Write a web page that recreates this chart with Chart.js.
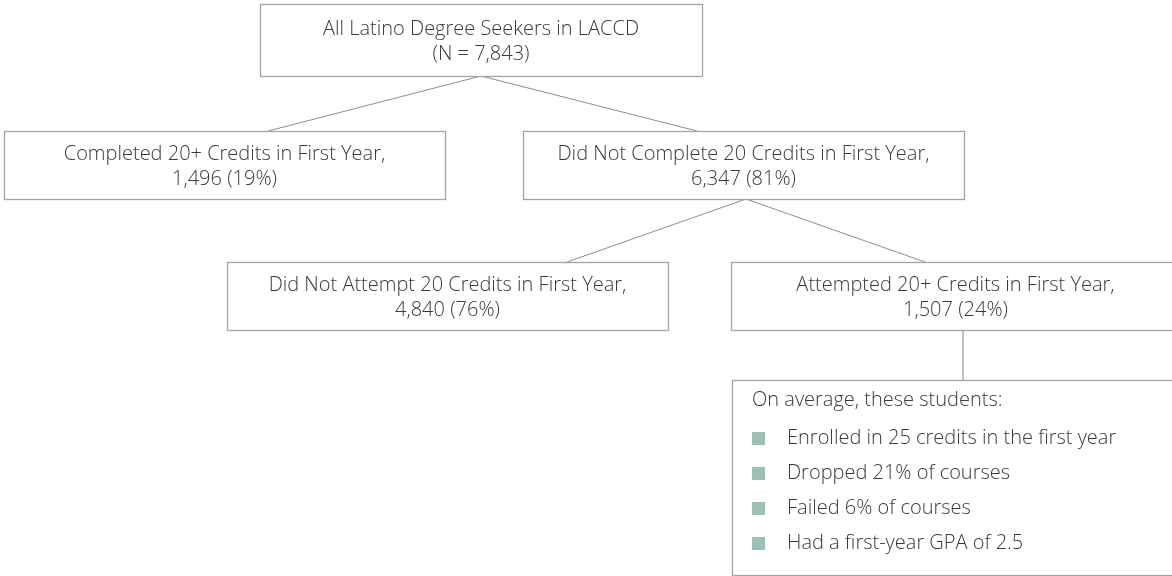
<!DOCTYPE html>
<html>
<head>
<meta charset="utf-8">
<script src="https://cdn.jsdelivr.net/npm/chart.js@4/dist/chart.umd.min.js"></script>
<style>
  html, body { margin: 0; padding: 0; background: #ffffff; }
  #wrap { width: 1172px; height: 576px; }
  canvas { display: block; }
</style>
</head>
<body>
<div id="wrap"><canvas id="c" width="1172" height="576"></canvas></div>
<script>
// ---- data ----
const nodeLabels = [
  "All Latino Degree Seekers in LACCD",
  "Completed 20+ Credits in First Year,",
  "Did Not Complete 20 Credits in First Year,",
  "Did Not Attempt 20 Credits in First Year,",
  "Attempted 20+ Credits in First Year,"
];
const nodeCounts = [7843, 1496, 6347, 4840, 1507];
const nodePercents = [null, 19, 81, 76, 24];
const parentIndex = [null, 0, 0, 2, 2];
const summaryOf = 4;
const summaryTitle = "On average, these students:";
const summaryItems = [
  "Enrolled in 25 credits in the first year",
  "Dropped 21% of courses",
  "Failed 6% of courses",
  "Had a first-year GPA of 2.5"
];

// ---- layout (diagram coordinates, separate from data) ----
const boxRects = [
  [260, 4, 702, 76],
  [4, 131, 445, 199],
  [523, 131, 964, 199],
  [227, 262, 668, 330],
  [731, 262, 1185, 330]
];
const edgeFrom = [null, [481, 76], [481, 76], [746, 199], [746, 199]];
const edgeTo = [null, [268, 131], [697, 131], [567, 262], [925, 262]];
const summaryRect = [732, 380, 1185, 575];
const summaryLink = [[963, 330], [963, 380]];

const styleText = "#3a3a3a";
const styleBorder = "#a4a4a4";
const styleLine = "#8e8e8e";
const styleBullet = "#9cc0b4";
const fontFamily = "'Open Sans', 'Noto Sans', 'DejaVu Sans', sans-serif";

function fmt(n) { return n.toLocaleString('en-US'); }
function secondLine(i) {
  if (nodePercents[i] === null) return "(N = " + fmt(nodeCounts[i]) + ")";
  return fmt(nodeCounts[i]) + " (" + nodePercents[i] + "%)";
}

// edges as line datasets through the scales
const datasets = [];
for (let i = 0; i < nodeLabels.length; i++) {
  if (parentIndex[i] === null) continue;
  datasets.push({
    type: 'line',
    data: [{x: edgeFrom[i][0], y: edgeFrom[i][1]}, {x: edgeTo[i][0], y: edgeTo[i][1]}],
    borderColor: styleLine, borderWidth: 1, pointRadius: 0, tension: 0, fill: false
  });
}
datasets.push({
  type: 'line',
  data: summaryLink.map(p => ({x: p[0], y: p[1]})),
  borderColor: styleBorder, borderWidth: 1.3, pointRadius: 0, fill: false
});

const boxPlugin = {
  id: 'boxes',
  afterDatasetsDraw(chart) {
    const ctx = chart.ctx;
    const xs = chart.scales.x, ys = chart.scales.y;
    const px = v => xs.getPixelForValue(v);
    const py = v => ys.getPixelForValue(v);
    ctx.save();
    ctx.lineWidth = 1.3;
    ctx.strokeStyle = styleBorder;
    ctx.fillStyle = "#ffffff";
    for (let i = 0; i < nodeLabels.length; i++) {
      const r = boxRects[i];
      const x0 = px(r[0]), y0 = py(r[1]), x1 = px(r[2]), y1 = py(r[3]);
      ctx.fillRect(x0, y0, x1 - x0, y1 - y0);
      ctx.strokeRect(Math.round(x0) + 0.5, Math.round(y0) + 0.5, Math.round(x1 - x0), Math.round(y1 - y0));
      const cx = (x0 + Math.min(x1, chart.width + 8)) / 2;
      const cy = (y0 + y1) / 2 + 1.5;
      ctx.fillStyle = styleText;
      ctx.font = "300 20px " + fontFamily;
      ctx.textAlign = "center";
      ctx.textBaseline = "middle";
      ctx.fillText(nodeLabels[i], cx, cy - 12.5);
      ctx.fillText(secondLine(i), cx, cy + 12.5);
      ctx.fillStyle = "#ffffff";
    }
    // summary box
    const s = summaryRect;
    const sx0 = px(s[0]), sy0 = py(s[1]), sx1 = px(s[2]), sy1 = py(s[3]);
    ctx.fillRect(sx0, sy0, sx1 - sx0, sy1 - sy0);
    ctx.strokeRect(Math.round(sx0) + 0.5, Math.round(sy0) + 0.5, Math.round(sx1 - sx0), Math.round(sy1 - sy0));
    ctx.fillStyle = styleText;
    ctx.font = "300 20px " + fontFamily;
    ctx.textAlign = "left";
    ctx.textBaseline = "middle";
    ctx.fillText(summaryTitle, sx0 + 20, sy0 + 20);
    for (let k = 0; k < summaryItems.length; k++) {
      const yy = sy0 + 58.5 + k * 35;
      ctx.fillStyle = styleBullet;
      ctx.fillRect(sx0 + 20, yy - 6.5, 13, 13);
      ctx.fillStyle = styleText;
      ctx.fillText(summaryItems[k], sx0 + 55, yy);
    }
    ctx.restore();
  }
};

new Chart(document.getElementById('c'), {
  type: 'scatter',
  data: { datasets },
  options: {
    responsive: false,
    animation: false,
    events: [],
    layout: { padding: 0 },
    scales: {
      x: { type: 'linear', min: 0, max: 1172, display: false },
      y: { type: 'linear', min: 0, max: 576, reverse: true, display: false }
    },
    plugins: { legend: { display: false }, tooltip: { enabled: false } },
    clip: false
  },
  plugins: [boxPlugin]
});
</script>
</body>
</html>
